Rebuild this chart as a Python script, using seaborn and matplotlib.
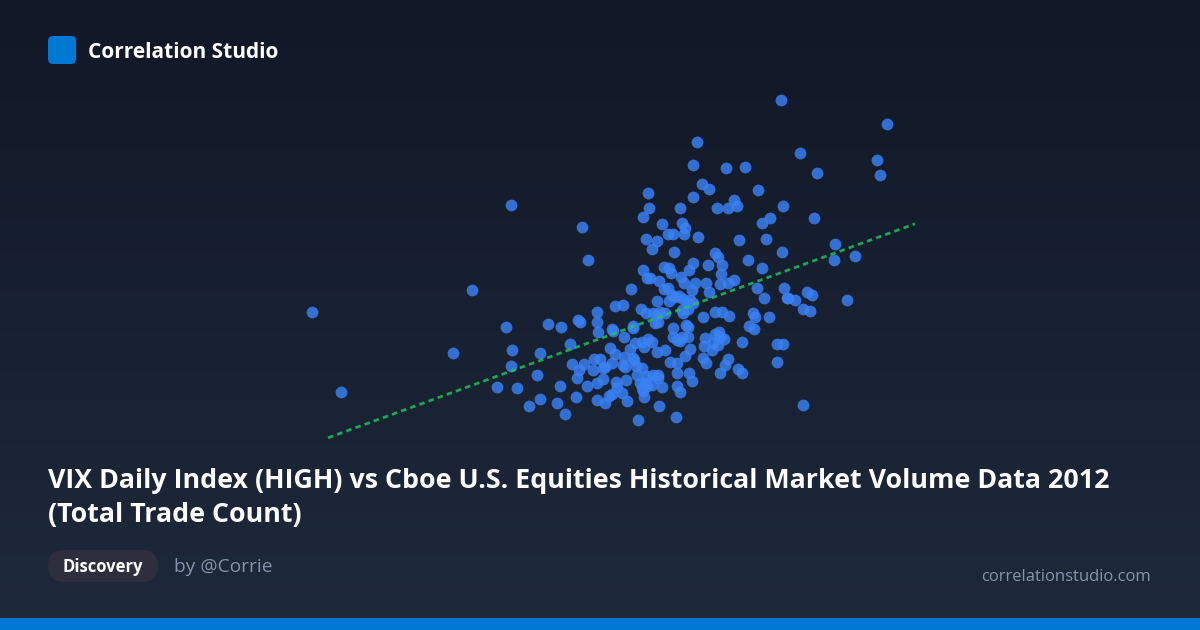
import numpy as np
import pandas as pd
import seaborn as sns
import matplotlib.pyplot as plt
from matplotlib.patches import FancyBboxPatch, Rectangle
from matplotlib.colors import LinearSegmentedColormap

# VIX daily high vs total trade count (millions), 2012
vix_high = [
    21.94, 21.86, 22.04, 21.86, 20.96, 20.98, 20.86, 21.60, 21.24, 21.64,
    21.70, 21.68, 21.36, 21.46, 21.96, 20.92, 21.14, 21.04, 21.48, 21.86,
    18.22, 19.64, 19.76, 20.86, 21.28, 21.38, 21.42, 21.78, 23.62, 25.74,
    24.00, 25.54, 25.60, 24.34, 22.52, 22.90, 22.18, 23.16, 22.68, 22.74,
    22.56, 22.34, 23.66, 23.40, 23.24, 24.28, 22.78, 23.32, 24.70, 23.64,
    25.10, 24.68, 22.30, 22.36, 22.16, 22.44, 22.96, 23.24, 14.24, 17.44,
    17.06, 14.82, 17.94, 20.94, 20.62, 20.30, 20.46, 19.94, 20.82, 20.92,
    18.12, 18.96, 19.22, 19.56, 19.60, 19.94, 19.96, 20.24, 20.26, 20.48,
    20.66, 20.66, 20.96, 19.40, 18.24, 18.80, 20.20, 20.60, 20.70, 20.84,
    20.88, 20.30, 20.00, 19.88, 20.48, 20.66, 20.68, 19.44, 19.68, 20.10,
    20.24, 20.46, 20.50, 18.22, 19.58, 19.86, 20.06, 20.72, 20.84, 18.74,
    19.54, 20.74, 20.94, 20.06, 19.94, 20.32, 20.52, 20.80, 18.34, 19.20,
    19.74, 20.34, 20.84, 20.94, 19.52, 18.80, 20.24, 20.44, 20.86, 19.14,
    18.58, 19.94, 20.10, 20.18, 20.54, 20.88, 19.30, 20.76, 21.00, 21.18,
    21.62, 21.68, 21.90, 22.12, 22.42, 22.40, 22.56, 22.68, 23.14, 23.68,
    22.18, 21.28, 21.36, 21.84, 21.44, 21.50, 21.58, 21.66, 21.74, 21.80,
    21.86, 21.38, 21.14, 23.74, 23.28, 21.64, 21.76, 21.66, 21.20, 21.14,
    21.06, 21.30, 22.06, 22.30, 22.44, 22.58, 23.06, 23.10, 23.38, 21.10,
    21.16, 21.46, 21.72, 21.76, 22.98, 23.08, 22.38, 21.46, 21.54, 21.64,
    21.76, 21.60, 22.10, 22.08, 21.04, 22.30, 22.40, 22.48, 22.26, 22.36,
    22.84, 23.54, 23.66, 21.80, 22.24, 21.14, 21.30, 21.70, 21.40, 21.54,
    22.06, 22.12, 22.56, 22.50, 22.76, 22.84, 22.40, 23.54, 21.54, 21.78,
    21.84, 21.06, 21.16, 21.16, 20.90, 21.04, 21.24, 21.54, 21.60, 21.18,
    21.52, 24.14, 24.24, 23.76, 23.90, 24.94, 24.06, 24.20, 24.06,
]
trade_count = [
    22.90, 21.75, 20.80, 20.15, 20.35, 19.60, 19.15, 19.60, 18.80, 18.85,
    18.60, 18.30, 18.30, 18.30, 18.15, 18.05, 17.95, 17.55, 17.40, 16.85,
    19.75, 18.65, 17.00, 16.50, 16.65, 16.60, 16.35, 16.50, 25.00, 23.80,
    22.35, 22.00, 21.25, 21.35, 21.60, 21.65, 20.55, 20.50, 20.00, 19.70,
    19.60, 19.60, 19.70, 19.10, 18.85, 19.10, 18.00, 18.05, 17.80, 17.40,
    17.20, 17.00, 17.35, 17.15, 16.75, 16.75, 17.00, 16.60, 14.40, 15.50,
    12.35, 10.40, 10.65, 16.10, 15.55, 14.70, 14.75, 14.40, 14.55, 14.35,
    13.65, 13.80, 13.65, 14.00, 13.90, 13.90, 13.40, 13.55, 13.45, 13.15,
    13.70, 13.60, 13.05, 12.80, 12.50, 12.35, 12.60, 12.55, 12.85, 12.90,
    12.65, 12.30, 12.05, 12.05, 12.15, 12.10, 12.00, 11.80, 11.80, 11.65,
    11.85, 11.75, 11.65, 11.70, 11.50, 11.50, 11.60, 11.70, 11.60, 11.25,
    11.10, 11.25, 11.20, 11.05, 10.85, 10.90, 11.00, 10.85, 10.60, 10.70,
    10.70, 10.65, 10.60, 10.70, 10.15, 10.05, 10.30, 10.35, 10.45, 9.85,
    9.70, 10.00, 9.85, 10.20, 9.95, 10.15, 9.30, 9.00, 16.10, 15.95,
    16.15, 15.85, 15.85, 15.85, 16.30, 15.80, 15.85, 16.00, 15.60, 15.60,
    15.40, 15.55, 15.60, 15.50, 15.25, 15.15, 15.20, 15.05, 14.85, 15.00,
    14.85, 14.95, 14.95, 15.10, 15.10, 14.50, 14.55, 14.35, 14.40, 14.25,
    14.35, 14.35, 14.15, 14.40, 14.40, 14.20, 14.35, 14.15, 14.15, 13.85,
    13.90, 13.60, 13.75, 13.65, 13.70, 13.55, 13.40, 13.15, 13.00, 13.15,
    13.15, 12.95, 13.10, 12.70, 12.90, 13.30, 13.15, 13.05, 12.85, 12.75,
    12.90, 12.80, 12.80, 12.55, 12.50, 12.40, 12.50, 12.20, 11.90, 11.85,
    12.10, 11.85, 12.05, 11.75, 11.55, 11.35, 11.35, 11.90, 11.35, 11.35,
    10.95, 11.25, 11.25, 11.10, 10.85, 10.75, 10.65, 10.70, 10.40, 9.70,
    9.15, 15.40, 15.25, 15.10, 15.00, 15.00, 14.55, 14.45, 9.75,
]
trend_range = [14.56, 26.30]

title = "VIX Daily Index (HIGH) vs Cboe U.S. Equities Historical Market Volume Data 2012\n(Total Trade Count)"

df = pd.DataFrame({"vix_high": vix_high, "trade_count": trade_count})

sns.set_theme(style="white")
plt.rcParams["font.family"] = ["Open Sans", "DejaVu Sans"]

fig = plt.figure(figsize=(12, 6.3), dpi=100)

# background gradient
bg = fig.add_axes([0, 0, 1, 1], zorder=0)
grad = np.linspace(0, 1, 256).reshape(-1, 1)
cmap = LinearSegmentedColormap.from_list("bg", ["#111827", "#1e293b"])
bg.imshow(grad, aspect="auto", cmap=cmap, extent=[0, 1, 0, 1])
bg.axis("off")

ax = fig.add_axes([0, 0, 1, 1], zorder=1)
ax.patch.set_alpha(0)
sns.scatterplot(data=df, x="vix_high", y="trade_count", ax=ax,
                s=72, color="#3b82f6", alpha=0.82, linewidth=0)

# least squares trend
slope, intercept = np.polyfit(df.vix_high, df.trade_count, 1)
tx = np.array(trend_range)
ax.plot(tx, slope * tx + intercept, color="#22c55e", alpha=0.8,
        lw=2, ls=(0, (2, 1.5)))

ax.set_xlim(8, 32)
ax.set_ylim(-1.5, 30)
ax.axis("off")

# header
fig.patches.append(FancyBboxPatch((0.48, 5.66), 0.28, 0.28,
                                  boxstyle="round,pad=0,rounding_size=0.05",
                                  transform=fig.dpi_scale_trans,
                                  fc="#0078d4", ec="none", zorder=3))
fig.text(88 / 1200, 1 - 52 / 630, "Correlation Studio", color="white",
         fontsize=15, fontweight="bold", va="center", ha="left")

fig.text(48 / 1200, 1 - 498 / 630, title, color="white", fontsize=19.3,
         fontweight="bold", va="center", ha="left", linespacing=1.42)

# footer
fig.patches.append(FancyBboxPatch((0.48, 0.48), 1.10, 0.32,
                                  boxstyle="round,pad=0,rounding_size=0.16",
                                  transform=fig.dpi_scale_trans,
                                  fc="#2f2e3e", ec="none", zorder=3))
fig.text(103 / 1200, 1 - 567 / 630, "Discovery", color="white",
         fontsize=12, fontweight="bold", va="center", ha="center", zorder=4)
fig.text(174 / 1200, 1 - 567 / 630, "by @Corrie", color="#8494ab",
         fontsize=13.8, va="center", ha="left")
fig.text(1151 / 1200, 1 - 577 / 630, "correlationstudio.com", color="#8494ab",
         fontsize=12, va="center", ha="right")
fig.patches.append(Rectangle((0, 0), 1, 12 / 630, transform=fig.transFigure,
                             fc="#0078d4", ec="none", zorder=3))

fig.savefig("out.png", dpi=100)
